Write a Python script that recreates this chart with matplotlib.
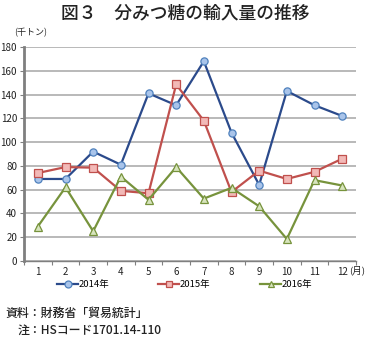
import matplotlib
matplotlib.use("Agg")
import matplotlib.pyplot as plt
from matplotlib.lines import Line2D

plt.rcParams['font.family'] = ['Noto Sans CJK JP', 'DejaVu Sans']

months = list(range(1, 13))
month_labels = [str(m) for m in months]
imports_2014 = [69, 69, 92, 81, 141, 131, 168, 108, 64, 143, 131, 122]
imports_2015 = [74, 79, 78.5, 59, 57, 148.5, 118, 58, 76, 69, 75, 86]
imports_2016 = [29, 62, 25, 71, 51.5, 79, 52.5, 61.5, 46, 18.5, 68, 63.5]
series_labels = ['2014年', '2015年', '2016年']
yticks = list(range(0, 181, 20))

styles = [
    dict(color='#2b4a8b', marker='o', mfc='#a9c4ea', mec='#4f81bd'),
    dict(color='#c0504d', marker='s', mfc='#f2b9b7', mec='#c0504d'),
    dict(color='#77933c', marker='^', mfc='#d7e4bd', mec='#77933c'),
]

W, H = 369, 337
fig = plt.figure(figsize=(W / 100, H / 100), dpi=100)
ax = fig.add_axes([24 / W, 1 - 261 / H, (356 - 24) / W, (261 - 47) / H])

for vals, lab, st in zip([imports_2014, imports_2015, imports_2016], series_labels, styles):
    ax.plot(months, vals, color=st['color'], lw=1.6, marker=st['marker'],
            ms=5.2 if st['marker'] != '^' else 5.8, mfc=st['mfc'], mec=st['mec'],
            mew=0.9, label=lab, zorder=3)

ax.set_xlim(0.5, 12.5)
ax.set_ylim(0, 180)
ax.set_yticks(yticks)
ax.set_yticklabels([str(v) for v in yticks], fontsize=7, color='#222222')
ax.yaxis.grid(True, color='#a6a6a6', lw=1.1)
ax.set_axisbelow(True)

# category boundary ticks, labels at category centres
ax.set_xticks([m + 0.5 for m in [0] + months])
ax.set_xticklabels([])
ax.set_xticks(months, minor=True)
ax.set_xticklabels(month_labels, minor=True, fontsize=7, color='#222222')
ax.tick_params(axis='x', which='minor', length=0, pad=4)
ax.tick_params(axis='x', which='major', length=3, color='#808080', width=0.8)
ax.tick_params(axis='y', length=3, color='#808080', width=0.8, pad=2)

for s in ['top', 'right']:
    ax.spines[s].set_visible(False)
ax.spines['left'].set_color('#7f7f7f')
ax.spines['left'].set_linewidth(2)
ax.spines['bottom'].set_color('#7f7f7f')
ax.spines['bottom'].set_linewidth(1)

fig.text(185 / W, 1 - 13 / H, '図３　分みつ糖の輸入量の推移', ha='center', va='center',
         fontsize=12.8, fontweight='medium', color='#222222')
fig.text(31 / W, 1 - 33 / H, '(千トン)', ha='center', va='center', fontsize=6.5, color='#222222')
fig.text(349 / W, 1 - 270 / H, '(月)', ha='left', va='center', fontsize=6.8, color='#222222')

handles = [Line2D([0], [0], color=st['color'], lw=1.6, marker=st['marker'], ms=5,
                  mfc=st['mfc'], mec=st['mec'], mew=0.9) for st in styles]
leg_x = [58, 159, 261]
for h, lab, x in zip(handles, series_labels, leg_x):
    fig.legend([h], [lab], loc='center left', bbox_to_anchor=(x / W - 0.02, 1 - 285 / H),
               frameon=False, fontsize=6.8, handlelength=2.2, handletextpad=0.1,
               borderpad=0.2)

fig.text(5 / W, 1 - 313 / H, '資料：財務省「貿易統計」', ha='left', va='center',
         fontsize=8.6, fontweight='medium', color='#222222')
fig.text(18 / W, 1 - 330 / H, '注：HSコード1701.14-110', ha='left', va='center',
         fontsize=8.6, fontweight='medium', color='#222222')

fig.savefig('out.png', dpi=100)
